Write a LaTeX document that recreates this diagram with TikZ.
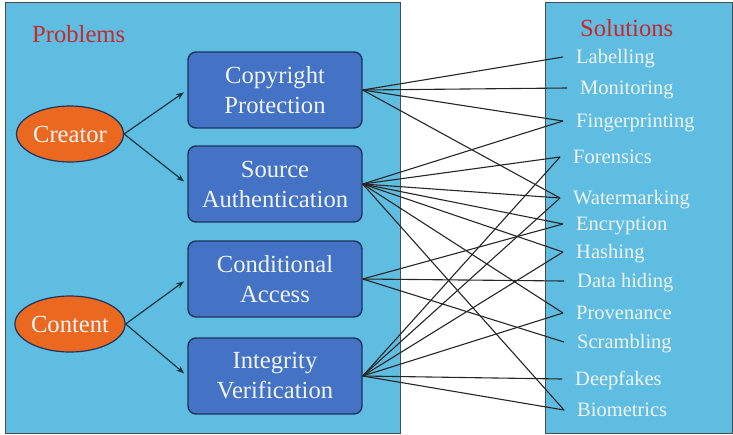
\documentclass[tikz,border=0pt]{standalone}
\usepackage{fontspec}
\setmainfont{Liberation Serif}
\usetikzlibrary{arrows.meta,shapes.geometric}

\definecolor{panelblue}{RGB}{94,189,224}
\definecolor{boxblue}{RGB}{68,114,196}
\definecolor{boxedge}{RGB}{30,52,92}
\definecolor{ovalfill}{RGB}{234,104,32}
\definecolor{headred}{RGB}{200,40,45}
\definecolor{arrowdark}{RGB}{22,52,66}
\definecolor{paletext}{RGB}{240,244,246}

\begin{document}
\begin{tikzpicture}[x=1pt, y=-1pt, font=\fontsize{24.6}{30}\selectfont,
  panel/.style={draw=black!70, line width=0.8pt, fill=panelblue},
  box/.style={draw=boxedge, line width=1.4pt, fill=boxblue, rounded corners=8pt,
    minimum width=174pt, minimum height=76pt, align=center, inner sep=0pt, text=paletext},
  oval/.style={ellipse, draw=boxedge, line width=1.2pt, fill=ovalfill,
    minimum width=107pt, minimum height=56pt, inner sep=0pt, text=paletext},
  sol/.style={anchor=west, inner xsep=13pt, inner ysep=0pt, text height=16pt, text depth=4pt,
    font=\fontsize{20.5}{24}\selectfont, text=paletext},
  title/.style={anchor=base west, inner sep=0pt, text=headred},
  arr/.style={-{Stealth[length=8pt, width=6pt]}, line width=1.2pt, draw=arrowdark, shorten >=4pt},
  link/.style={line width=1.1pt, black!85}]
\useasboundingbox (0,0) rectangle (733,434);
\draw[panel] (5,2) rectangle (400,433);
\draw[panel] (545,2) rectangle (732.5,433);
\node[title] (pb) at (32,42) {Problems};
\node[title] (sl) at (580,36) {Solutions};

% problems
\node[oval] (cr) at (70,134) {Creator};
\node[oval] (ct) at (70,324) {Content};
\node[box] (cp) at (275,90) {Copyright\\Protection};
\node[box] (sa) at (275,184) {Source\\Authentication};
\node[box] (ca) at (275,279) {Conditional\\Access};
\node[box] (iv) at (275,376) {Integrity\\Verification};
\draw[arr] (cr.east) -- (cp.west);
\draw[arr] (cr.east) -- (sa.west);
\draw[arr] (ct.east) -- (ca.west);
\draw[arr] (ct.east) -- (iv.west);

% solutions
\node[sol] (lab) at (563,57) {Labelling};
\node[sol] (mon) at (567,88) {Monitoring};
\node[sol] (fin) at (563,121) {Fingerprinting};
\node[sol] (frn) at (560,157) {Forensics};
\node[sol] (wat) at (560,198) {Watermarking};
\node[sol] (enc) at (563,224) {Encryption};
\node[sol] (has) at (563,252) {Hashing};
\node[sol] (dhi) at (564,281) {Data hiding};
\node[sol] (pro) at (563,313) {Provenance};
\node[sol] (scr) at (564,342) {Scrambling};
\node[sol] (dee) at (562,379) {Deepfakes};
\node[sol] (bio) at (564,410) {Biometrics};

% which solution answers which problem
\foreach \p/\s in {cp/lab, cp/mon, cp/fin, cp/wat,
    sa/fin, sa/frn, sa/wat, sa/enc, sa/has, sa/pro, sa/bio,
    ca/enc, ca/dhi, ca/scr,
    iv/frn, iv/wat, iv/has, iv/pro, iv/dee, iv/bio}
  \draw[link] (\p.east) -- (\s.west);
\end{tikzpicture}
\end{document}
